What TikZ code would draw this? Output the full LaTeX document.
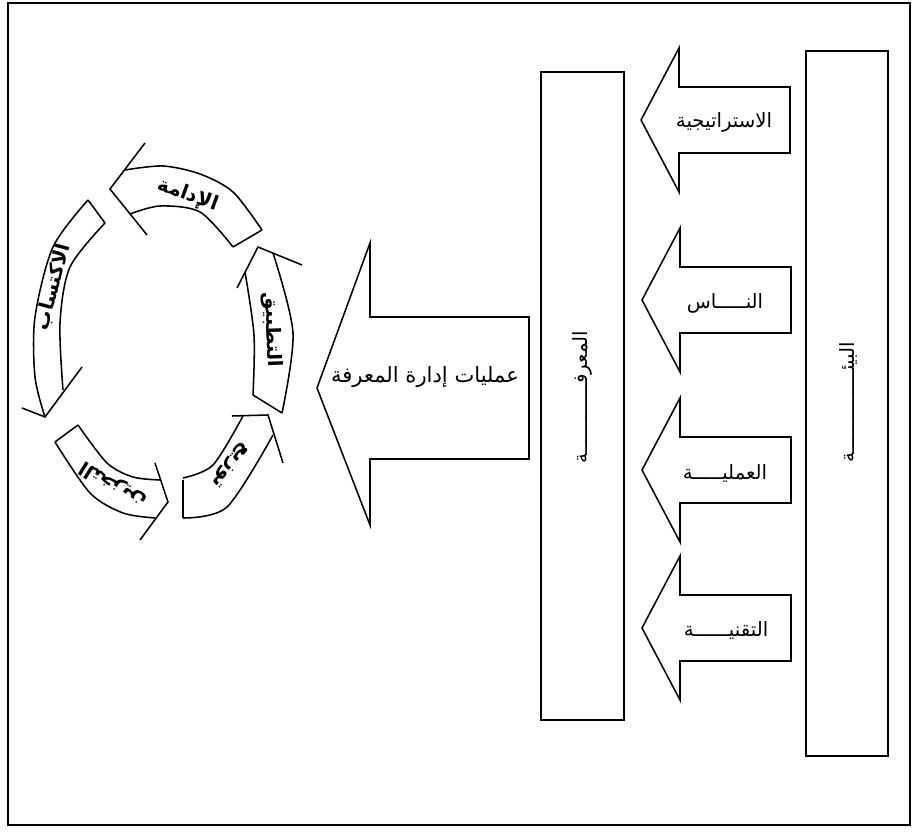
\documentclass[tikz,border=0pt]{standalone}
\usepackage{tikz}
\usepackage{fontspec}
\newfontfamily\arabicfont[Script=Arabic]{DejaVu Sans}
\TeXXeTstate=1

\tikzset{
  frameline/.style={line width=1.8pt},
  boxline/.style={line width=1.1pt},
  arabtext/.style={font=\arabicfont\fontsize{14}{16}\selectfont},
  bigtext/.style={font=\arabicfont\fontsize{15}{17}\selectfont},
  cyctext/.style={font=\arabicfont\bfseries\fontsize{14}{16}\selectfont, inner sep=0pt}
}

\begin{document}
\begin{tikzpicture}[x=0.025cm,y=0.025cm]
\useasboundingbox (0,0) rectangle (914,833);

%frame
\draw[frameline] (8,8) rectangle (910,830);

%boxes
\draw[boxline] (806,77) rectangle (888,782);
\draw[boxline] (541,113) rectangle (624,761);
\draw (848,431) node[arabtext,rotate=90] (environ) {\beginR البيئــــــــــــــة\endR};
\draw (582,436) node[arabtext,rotate=90] (knowledge) {\beginR المعرفــــــــــــة\endR};

%small arrows
\draw[boxline] (641,713) -- ++(38,72) -- ++(0,-39) -- ++(111,0) -- ++(0,-66) -- ++(-111,0) -- ++(0,-39) -- cycle;
\draw[boxline] (642,533) -- ++(38,72) -- ++(0,-39) -- ++(111,0) -- ++(0,-66) -- ++(-111,0) -- ++(0,-39) -- cycle;
\draw[boxline] (642,363) -- ++(38,72) -- ++(0,-39) -- ++(111,0) -- ++(0,-66) -- ++(-111,0) -- ++(0,-39) -- cycle;
\draw[boxline] (642,205) -- ++(38,72) -- ++(0,-39) -- ++(111,0) -- ++(0,-66) -- ++(-111,0) -- ++(0,-39) -- cycle;

\draw (724,711) node[arabtext] (strat) {\beginR الاستراتيجية\endR};
\draw (725,530) node[arabtext] (people) {\beginR النـــــاس\endR};
\draw (725,360) node[arabtext] (process) {\beginR العمليـــــة\endR};
\draw (726,203) node[arabtext] (tech) {\beginR التقنيــــــة\endR};

%big arrow
\draw[boxline] (317,445) -- (370,590) -- (370,516) -- (529,516) -- (529,374) -- (370,374) -- (370,308) -- cycle;
\draw (425,456) node[bigtext] (kmp) {\beginR عمليات إدارة المعرفة\endR};

%cycle, top
\draw[boxline] plot[smooth] coordinates {(125,663) (163,667) (200,659) (233,641) (262,603)};
\draw[boxline] plot[smooth] coordinates {(130,619) (160,627) (200,621) (233,586)};
\draw[boxline] (262,603) -- (233,586);
\draw[boxline] (145,690) -- (110,644) -- (147,598);
\draw (188,638) node[cyctext,rotate=-20] (keep) {\beginR الإدامة\endR};

%cycle, right
\draw[boxline] plot[smooth] coordinates {(273,580) (293,500) (282,420)};
\draw[boxline] plot[smooth] coordinates {(245,561) (254,498) (253,438)};
\draw[boxline] (253,438) -- (282,420);
\draw[boxline] (302,568) -- (258,586) -- (237,545);
\draw (272,503) node[cyctext,rotate=-88] (apply) {\beginR التطبيق\endR};

%cycle, bottom right
\draw[boxline] plot[smooth] coordinates {(183,315) (227,326) (273,398)};
\draw[boxline] plot[smooth] coordinates {(183,355) (213,368) (243,417)};
\draw[boxline] (183,353) -- (183,315);
\draw[boxline] (232,417) -- (268,418) -- (283,370);
\draw (230,368) node[cyctext,rotate=-130] (share) {\beginR توزيع\endR};

%cycle, bottom left
\draw[boxline] plot[smooth] coordinates {(55,391) (90,340) (123,320) (155,315)};
\draw[boxline] plot[smooth] coordinates {(78,408) (107,370) (133,356) (160,353)};
\draw[boxline] (55,391) -- (78,408);
\draw[boxline] (155,370) -- (168,331) -- (140,293);
\draw (113,348) node[cyctext,rotate=148] (store) {\beginR التخزين\endR};

%cycle, left
\draw[boxline] plot[smooth] coordinates {(88,633) (53,586) (35,516) (35,456) (45,416)};
\draw[boxline] plot[smooth] coordinates {(105,610) (70,566) (60,510) (63,443)};
\draw[boxline] (88,633) -- (105,610);
\draw[boxline] (22,425) -- (45,416) -- (82,466);
\draw (53,546) node[cyctext,rotate=75] (gain) {\beginR الاكتساب\endR};

\end{tikzpicture}
\end{document}
